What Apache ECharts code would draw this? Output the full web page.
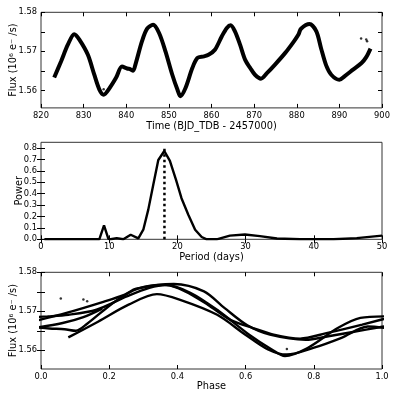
<!DOCTYPE html>
<html>
<head>
<meta charset="utf-8">
<script src="https://cdn.jsdelivr.net/npm/echarts@6/dist/echarts.min.js"></script>
<style>
  html, body { margin: 0; padding: 0; background: #fff; }
  #lc { width: 399px; height: 399px; }
</style>
</head>
<body>
<div id="lc"></div>
<script>
// light curve
var fluxTime = [823.1, 824.7, 826.3, 827.8, 829.0, 831.0, 832.5, 833.7, 834.7, 836.1, 837.6, 839.0, 840.2, 841.0, 841.6,
  842.2, 843.7, 844.9, 846.3, 847.7, 849.2, 850.8, 852.0, 852.7, 853.9, 855.5, 856.7, 858.2, 859.3, 860.8,
  862.4, 863.6, 864.5, 865.5, 866.7, 867.9, 869.1, 870.2, 871.6, 873.0, 874.9, 877.3, 879.3, 880.4, 881.0,
  883.0, 884.6, 885.7, 886.9, 888.1, 890.0, 891.2, 893.2, 895.2, 896.3, 897.3];
var fluxValue = [1.5633, 1.5674, 1.5717, 1.5744, 1.5730, 1.5691, 1.5640, 1.5602, 1.5589, 1.5606, 1.5632, 1.5661, 1.5656, 1.5654, 1.5650,
  1.5668, 1.5726, 1.5758, 1.5768, 1.5747, 1.5700, 1.5640, 1.5602, 1.5585, 1.5606, 1.5657, 1.5683, 1.5687, 1.5691, 1.5704,
  1.5738, 1.5760, 1.5767, 1.5751, 1.5717, 1.5678, 1.5657, 1.5640, 1.5630, 1.5644, 1.5666, 1.5696, 1.5725, 1.5743, 1.5758,
  1.5770, 1.5751, 1.5708, 1.5664, 1.5640, 1.5627, 1.5636, 1.5653, 1.5670, 1.5685, 1.5707];
// stray points
var spikeTime = [834.7, 895.1, 896.3, 896.5];
var spikeValue = [1.5603, 1.5733, 1.5730, 1.5726];

// periodogram
var periodDays = [0.5, 7.2, 8.55, 9.24, 9.87, 10.2, 11.1, 12.07, 13.15, 14.27, 15.0, 15.73, 16.47, 17.2, 18.08, 18.9,
  19.8, 20.6, 21.6, 22.6, 23.56, 24.3, 25.76, 27.7, 29.9, 32.1, 34.6, 38.0, 42.9, 46.3, 50.0];
var powerValue = [0.0, 0.0, 0.0, 0.122, 0.005, 0.0, 0.01, 0.0, 0.04, 0.008, 0.084, 0.26, 0.48, 0.695, 0.774, 0.687,
  0.52, 0.36, 0.215, 0.084, 0.02, 0.0, 0.0, 0.032, 0.042, 0.028, 0.007, 0.0, 0.0, 0.01, 0.032];
var bestPeriod = 18.1;
var bestTop = 0.82;

// folding
var foldPeriod = 18.1;
var foldEpoch = 821.65;

var fontName = 'DejaVu Sans';

function pairs(xs, ys) {
  var out = [];
  for (var i = 0; i < xs.length; i++) out.push([xs[i], ys[i]]);
  return out;
}

function phaseOf(t) {
  var c = (t - foldEpoch) / foldPeriod;
  return { cyc: Math.floor(c), ph: c - Math.floor(c) };
}

// one line per cycle, neighbour points carried over so the curve runs to the frame
var cycles = {};
for (var i = 0; i < fluxTime.length; i++) {
  var f = phaseOf(fluxTime[i]);
  if (!cycles[f.cyc]) cycles[f.cyc] = [];
  cycles[f.cyc].push([f.ph, fluxValue[i]]);
  if (i > 0) {
    var prev = phaseOf(fluxTime[i - 1]);
    if (prev.cyc !== f.cyc) {
      cycles[prev.cyc].push([f.ph + 1, fluxValue[i]]);
      cycles[f.cyc].unshift([prev.ph - 1, fluxValue[i - 1]]);
    }
  }
}
var spikePhase = spikeTime.map(function (t) { return phaseOf(t).ph; });

var tickStyle = { inside: true, length: 4, lineStyle: { color: '#000', width: 1 } };
var labelStyle = { color: '#000', fontSize: 8.3, fontFamily: fontName, margin: 4 };
var nameStyle = { color: '#000', fontSize: 9.8, fontFamily: fontName };

function bottomAxis(g, min, max, step, digits, name, gap) {
  return {
    type: 'value', gridIndex: g, min: min, max: max, interval: step,
    name: name, nameLocation: 'middle', nameGap: gap, nameTextStyle: nameStyle, nameMoveOverlap: false,
    axisLine: { show: false }, axisTick: tickStyle, splitLine: { show: false },
    axisLabel: Object.assign({ formatter: function (v) { return v.toFixed(digits); } }, labelStyle)
  };
}
function topAxis(g, min, max, step) {
  return {
    type: 'value', gridIndex: g, position: 'top', min: min, max: max, interval: step,
    axisLine: { show: false }, axisTick: tickStyle, axisLabel: { show: false }, splitLine: { show: false }
  };
}
function leftAxis(g, min, max, ticks, labels, digits, name, gap) {
  return {
    type: 'value', gridIndex: g, min: min, max: max,
    name: name, nameLocation: 'middle', nameGap: gap, nameTextStyle: nameStyle, nameMoveOverlap: false,
    axisLine: { show: false }, splitLine: { show: false },
    axisTick: Object.assign({ customValues: ticks }, tickStyle),
    axisLabel: Object.assign({ customValues: labels, formatter: function (v) { return v.toFixed(digits); } }, labelStyle)
  };
}
function rightAxis(g, min, max, ticks) {
  return {
    type: 'value', gridIndex: g, position: 'right', min: min, max: max,
    axisLine: { show: false }, splitLine: { show: false },
    axisTick: Object.assign({ customValues: ticks }, tickStyle),
    axisLabel: { show: false }
  };
}

var fluxTicks = [1.56, 1.565, 1.57, 1.575, 1.58];
var fluxLabels = [1.56, 1.57, 1.58];
var powerTicks = [0, 0.1, 0.2, 0.3, 0.4, 0.5, 0.6, 0.7, 0.8];
var fluxName = 'Flux (10⁶ e⁻ /s)';

var frame = { show: true, borderColor: '#333', borderWidth: 1, backgroundColor: 'transparent',
  containLabel: false, outerBoundsMode: 'none' };

var series = [
  { type: 'line', xAxisIndex: 0, yAxisIndex: 0, data: pairs(fluxTime, fluxValue), showSymbol: false, smooth: 0.3,
    lineStyle: { color: '#000', width: 4 }, silent: true },
  { type: 'scatter', xAxisIndex: 0, yAxisIndex: 0, data: pairs(spikeTime, spikeValue), symbolSize: 2.5,
    itemStyle: { color: '#000' }, silent: true },
  { type: 'line', xAxisIndex: 2, yAxisIndex: 2, data: pairs(periodDays, powerValue), showSymbol: false,
    lineStyle: { color: '#000', width: 2.4 }, silent: true },
  { type: 'line', xAxisIndex: 2, yAxisIndex: 2, data: [[bestPeriod, 0], [bestPeriod, bestTop]], showSymbol: false,
    lineStyle: { color: '#000', width: 2.5, type: [2.5, 3] }, silent: true },
  { type: 'scatter', xAxisIndex: 4, yAxisIndex: 4, data: pairs(spikePhase, spikeValue), symbolSize: 2.5,
    itemStyle: { color: '#000' }, silent: true }
];
Object.keys(cycles).forEach(function (k) {
  series.push({ type: 'line', xAxisIndex: 4, yAxisIndex: 4, data: cycles[k], showSymbol: false, smooth: 0.3,
    lineStyle: { color: '#000', width: 2.4 }, silent: true });
});

var option = {
  animation: false,
  grid: [
    Object.assign({ left: 41, top: 12.3, width: 341, height: 95.6 }, frame),
    Object.assign({ left: 41, top: 142.3, width: 341, height: 97 }, frame),
    Object.assign({ left: 41, top: 272.3, width: 341, height: 96.7 }, frame)
  ],
  xAxis: [
    bottomAxis(0, 820, 900, 10, 0, 'Time (BJD_TDB - 2457000)', 13.5),
    topAxis(0, 820, 900, 10),
    bottomAxis(1, 0, 50, 10, 0, 'Period (days)', 13),
    topAxis(1, 0, 50, 10),
    bottomAxis(2, 0, 1, 0.2, 1, 'Phase', 12),
    topAxis(2, 0, 1, 0.2)
  ],
  yAxis: [
    leftAxis(0, 1.5555, 1.58, fluxTicks, fluxLabels, 2, fluxName, 23),
    rightAxis(0, 1.5555, 1.58, fluxTicks),
    leftAxis(1, 0, 0.85, powerTicks, powerTicks, 1, 'Power', 17),
    rightAxis(1, 0, 0.85, powerTicks),
    leftAxis(2, 1.5552, 1.58, fluxTicks, fluxLabels, 2, fluxName, 23),
    rightAxis(2, 1.5552, 1.58, fluxTicks)
  ],
  series: series
};

var lcChart = echarts.init(document.getElementById('lc'));
lcChart.setOption(option);
</script>
</body>
</html>
